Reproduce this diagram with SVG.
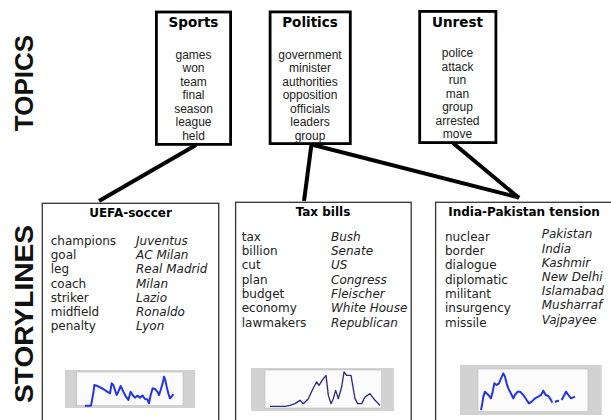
<svg xmlns="http://www.w3.org/2000/svg" width="611" height="420" viewBox="0 0 611 420">
<style>
.topic rect{fill:#fff;stroke:#000;stroke-width:2.8}
.ttitle{font-family:"DejaVu Sans",sans-serif;font-weight:bold;font-size:13.5px;text-anchor:middle;fill:#000}
.tword{font-family:"Liberation Sans",Arial,sans-serif;font-size:12px;text-anchor:middle;fill:#222}
.story .box{fill:#fff;stroke:#333;stroke-width:1.3}
.stitle{font-family:"DejaVu Sans",sans-serif;font-weight:bold;font-size:12px;text-anchor:middle;fill:#000}
.sword{font-family:"DejaVu Sans",sans-serif;font-size:12px;fill:#222}
.sname{font-family:"DejaVu Sans",sans-serif;font-size:12px;font-style:italic;fill:#222}
.big{font-family:"Liberation Sans",Arial,sans-serif;font-weight:bold;font-size:26px;fill:#111;text-anchor:middle}
.cbg{fill:#d2d2d2}
.cplot{fill:#fbfbfb;stroke:#b8b8b8;stroke-width:0.6}
.conn line{stroke:#000;stroke-width:4;stroke-linecap:butt}
</style>
<rect width="611" height="420" fill="#fff"/>
<text class="big" transform="translate(33 83) rotate(-90)">TOPICS</text>
<text class="big" transform="translate(33 314) rotate(-90)" textLength="178" lengthAdjust="spacingAndGlyphs">STORYLINES</text>

<g id="topic-sports" class="topic">
<rect x="156.4" y="12" width="74.2" height="132.4"/>
<text class="ttitle" x="193.5" y="27.3">Sports</text>
<text class="tword" x="193.5" y="58.5">games</text>
<text class="tword" x="193.5" y="72">won</text>
<text class="tword" x="193.5" y="85.5">team</text>
<text class="tword" x="193.5" y="99">final</text>
<text class="tword" x="193.5" y="112.5">season</text>
<text class="tword" x="193.5" y="126">league</text>
<text class="tword" x="193.5" y="139.5">held</text>
</g>

<g id="topic-politics" class="topic">
<rect x="270.1" y="11.9" width="80.2" height="131.7"/>
<text class="ttitle" x="310" y="27.3">Politics</text>
<text class="tword" x="310" y="58.5">government</text>
<text class="tword" x="310" y="72">minister</text>
<text class="tword" x="310" y="85.5">authorities</text>
<text class="tword" x="310" y="99">opposition</text>
<text class="tword" x="310" y="112.5">officials</text>
<text class="tword" x="310" y="126">leaders</text>
<text class="tword" x="310" y="139.5">group</text>
</g>

<g id="topic-unrest" class="topic">
<rect x="419.7" y="11.4" width="76.2" height="131.2"/>
<text class="ttitle" x="457.5" y="26.8">Unrest</text>
<text class="tword" x="457.5" y="57">police</text>
<text class="tword" x="457.5" y="70.5">attack</text>
<text class="tword" x="457.5" y="84">run</text>
<text class="tword" x="457.5" y="97.5">man</text>
<text class="tword" x="457.5" y="111">group</text>
<text class="tword" x="457.5" y="124.5">arrested</text>
<text class="tword" x="457.5" y="138">move</text>
</g>

<g id="connectors" class="conn">
<line x1="196" y1="145" x2="99" y2="201"/>
<line x1="311.5" y1="144" x2="304" y2="201"/>
<line x1="311.5" y1="144.5" x2="519" y2="197.5"/>
<line x1="453" y1="143" x2="519" y2="198"/>
</g>

<g id="story-uefa" class="story">
<rect class="box" x="42.3" y="203.3" width="176.4" height="230"/>
<text class="stitle" x="130.5" y="216.5">UEFA-soccer</text>
<text class="sword" x="50.7" y="245">champions</text>
<text class="sword" x="50.7" y="259.2">goal</text>
<text class="sword" x="50.7" y="273.4">leg</text>
<text class="sword" x="50.7" y="287.6">coach</text>
<text class="sword" x="50.7" y="301.8">striker</text>
<text class="sword" x="50.7" y="316">midfield</text>
<text class="sword" x="50.7" y="330.2">penalty</text>
<text class="sname" x="136" y="245">Juventus</text>
<text class="sname" x="136" y="259.2">AC Milan</text>
<text class="sname" x="136" y="273.4">Real Madrid</text>
<text class="sname" x="136" y="287.6">Milan</text>
<text class="sname" x="136" y="301.8">Lazio</text>
<text class="sname" x="136" y="316">Ronaldo</text>
<text class="sname" x="136" y="330.2">Lyon</text>
<rect class="cbg" x="65" y="370" width="130" height="38"/>
<rect class="cplot" x="76.7" y="372" width="106.3" height="33.7"/>
<polyline transform="translate(60 365) scale(0.33333)" fill="none" stroke="#2233ee" stroke-width="6" stroke-linejoin="round" points="75,122 93,122 97,100 100,85 103,60 110,62 130,72 145,82 150,85 155,55 160,60 170,90 175,80 182,63 190,80 198,95 205,105 212,80 218,90 225,98 232,92 240,98 248,92 255,102 262,103 267,115 272,90 278,70 285,72 292,80 297,90 302,75 308,55 312,35 316,45 320,65 325,85 330,100 335,95 340,87"/>
</g>

<g id="story-tax" class="story">
<rect class="box" x="235.6" y="202.3" width="175.6" height="230"/>
<text class="stitle" x="323" y="216">Tax bills</text>
<text class="sword" x="241.7" y="240.7">tax</text>
<text class="sword" x="241.7" y="255">billion</text>
<text class="sword" x="241.7" y="269.3">cut</text>
<text class="sword" x="241.7" y="283.6">plan</text>
<text class="sword" x="241.7" y="297.9">budget</text>
<text class="sword" x="241.7" y="312.2">economy</text>
<text class="sword" x="241.7" y="326.5">lawmakers</text>
<text class="sname" x="331" y="240.7">Bush</text>
<text class="sname" x="331" y="255">Senate</text>
<text class="sname" x="331" y="269.3">US</text>
<text class="sname" x="331" y="283.6">Congress</text>
<text class="sname" x="331" y="297.9">Fleischer</text>
<text class="sname" x="331" y="312.2">White House</text>
<text class="sname" x="331" y="326.5">Republican</text>
<rect class="cbg" x="251" y="368" width="143" height="43"/>
<rect class="cplot" x="265" y="370" width="116.7" height="38"/>
<polyline transform="translate(245 362) scale(0.33333)" fill="none" stroke="#2a2a88" stroke-width="4" stroke-linejoin="round" points="75,133 120,133 135,130 150,125 165,115 175,125 190,110 205,78 215,60 222,70 235,50 243,40 250,100 258,125 265,110 272,85 280,110 290,75 297,30 305,40 318,40 330,110 338,125 350,125 360,105 375,95 390,115 405,130"/>
</g>

<g id="story-india" class="story">
<rect class="box" x="435.6" y="202.3" width="190" height="230"/>
<text class="stitle" x="524" y="216">India-Pakistan tension</text>
<text class="sword" x="445" y="240.7">nuclear</text>
<text class="sword" x="445" y="255">border</text>
<text class="sword" x="445" y="269.3">dialogue</text>
<text class="sword" x="445" y="283.6">diplomatic</text>
<text class="sword" x="445" y="297.9">militant</text>
<text class="sword" x="445" y="312.2">insurgency</text>
<text class="sword" x="445" y="326.5">missile</text>
<text class="sname" x="541.7" y="238.3">Pakistan</text>
<text class="sname" x="541.7" y="252.5">India</text>
<text class="sname" x="541.7" y="266.7">Kashmir</text>
<text class="sname" x="541.7" y="280.9">New Delhi</text>
<text class="sname" x="541.7" y="295.1">Islamabad</text>
<text class="sname" x="541.7" y="309.3">Musharraf</text>
<text class="sname" x="541.7" y="323.5">Vajpayee</text>
<rect class="cbg" x="460" y="365" width="141.7" height="50"/>
<rect class="cplot" x="478" y="369" width="110" height="42.7"/>
<polyline transform="translate(455 360) scale(0.33333)" fill="none" stroke="#2233ee" stroke-width="6" stroke-linejoin="round" points="78,150 82,130 85,110 90,95 95,100 100,105 108,115 113,95 118,70 125,75 132,70 138,55 145,40 150,50 155,70 160,85 170,105 175,115 180,105 188,95 195,95 205,105 215,120 222,130 230,125 240,115 250,110 258,105 265,92 272,105 280,108 287,118 292,128"/>
<polyline transform="translate(455 360) scale(0.33333)" fill="none" stroke="#2233ee" stroke-width="6" stroke-linejoin="round" points="300,126 306,123 312,122"/>
<polyline transform="translate(455 360) scale(0.33333)" fill="none" stroke="#2233ee" stroke-width="6" stroke-linejoin="round" points="320,120 328,105 333,95 340,105 348,115 355,112 360,110"/>
</g>
</svg>
